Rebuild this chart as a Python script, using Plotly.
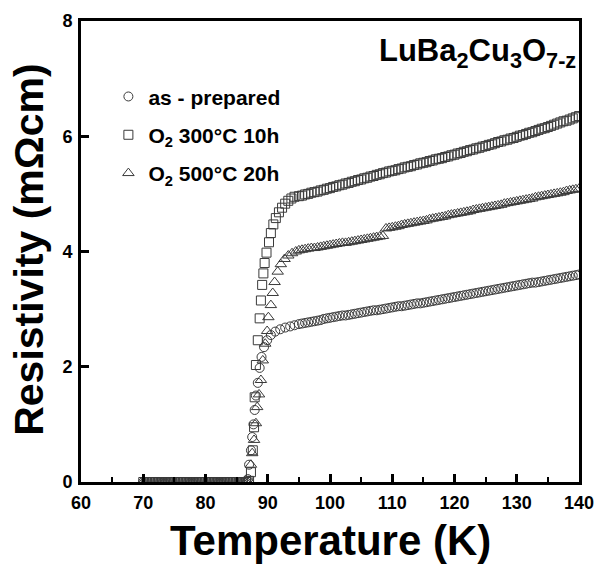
import plotly.graph_objects as go

# ---------------- data ----------------
# superconducting (zero-resistance) region, shared temperature grid
T_zero = [70 + 0.5 * i for i in range(34)]          # 70.0 ... 86.5 K
R_zero_asprep = [0.0] * 34
R_zero_o2_300 = [0.0] * 34
R_zero_o2_500 = [0.0] * 34

# transition region
T_tr_asprep = [86.8, 87.0, 87.3, 87.5, 87.7, 87.9, 88.1, 88.4, 88.7, 89.0, 89.4, 89.9,
               90.5, 91.2, 92.0, 92.8, 93.6, 94.3]
R_tr_asprep = [0.05, 0.30, 0.55, 0.78, 1.00, 1.25, 1.50, 1.72, 1.98, 2.17, 2.34, 2.46,
               2.55, 2.61, 2.65, 2.68, 2.70, 2.72]

T_tr_o2_300 = [87.0, 87.3, 87.6, 87.8, 87.9, 88.1, 88.4, 88.7, 88.9, 89.1, 89.3, 89.5,
               89.8, 90.2, 90.5, 90.9, 91.3, 91.8, 92.3, 92.8, 93.3, 93.8, 94.3]
R_tr_o2_300 = [0.02, 0.17, 0.55, 0.95, 1.47, 2.03, 2.46, 2.84, 3.15, 3.42, 3.62, 3.80,
               3.98, 4.16, 4.32, 4.47, 4.58, 4.68, 4.76, 4.83, 4.88, 4.92, 4.95]

T_tr_o2_500 = [87.0, 87.3, 87.5, 87.8, 88.1, 88.3, 88.6, 88.9, 89.2, 89.6, 89.9, 90.1,
               90.5, 90.8, 91.1, 91.6, 92.1, 92.7, 93.3, 93.9, 94.5]
R_tr_o2_500 = [0.02, 0.30, 0.50, 0.73, 1.02, 1.30, 1.52, 1.77, 2.11, 2.40, 2.62, 2.86,
               3.07, 3.28, 3.47, 3.65, 3.78, 3.87, 3.93, 3.97, 4.00]

# normal state, shared temperature grid 95.0 ... 140.0 K
T_norm = [95 + 0.5 * i for i in range(91)]
R_norm_asprep = [
    2.74, 2.75, 2.76, 2.77, 2.78, 2.79, 2.80, 2.81, 2.83, 2.84,
    2.85, 2.86, 2.87, 2.88, 2.89, 2.89, 2.90, 2.91, 2.92, 2.93,
    2.94, 2.95, 2.96, 2.97, 2.98, 2.98, 2.99, 3.00, 3.01, 3.02,
    3.03, 3.04, 3.05, 3.05, 3.06, 3.07, 3.08, 3.09, 3.10, 3.10,
    3.11, 3.12, 3.13, 3.14, 3.15, 3.16, 3.17, 3.18, 3.19, 3.20,
    3.21, 3.22, 3.23, 3.24, 3.25, 3.26, 3.27, 3.28, 3.29, 3.30,
    3.31, 3.32, 3.33, 3.34, 3.35, 3.36, 3.37, 3.38, 3.39, 3.40,
    3.41, 3.42, 3.43, 3.44, 3.45, 3.46, 3.46, 3.47, 3.48, 3.49,
    3.50, 3.51, 3.52, 3.53, 3.54, 3.55, 3.56, 3.57, 3.58, 3.59,
    3.60]
R_norm_o2_300 = [
    4.96, 4.97, 4.99, 5.00, 5.02, 5.03, 5.04, 5.06, 5.07, 5.09,
    5.10, 5.12, 5.13, 5.15, 5.16, 5.18, 5.19, 5.21, 5.22, 5.24,
    5.25, 5.27, 5.28, 5.30, 5.31, 5.33, 5.34, 5.36, 5.37, 5.39,
    5.40, 5.41, 5.43, 5.44, 5.46, 5.47, 5.48, 5.50, 5.51, 5.53,
    5.54, 5.55, 5.57, 5.58, 5.60, 5.61, 5.62, 5.64, 5.65, 5.67,
    5.68, 5.70, 5.71, 5.73, 5.74, 5.76, 5.77, 5.79, 5.80, 5.82,
    5.83, 5.85, 5.86, 5.88, 5.90, 5.91, 5.93, 5.94, 5.96, 5.97,
    5.99, 6.01, 6.02, 6.04, 6.06, 6.07, 6.09, 6.11, 6.13, 6.14,
    6.16, 6.18, 6.20, 6.22, 6.24, 6.26, 6.27, 6.29, 6.31, 6.33,
    6.35]
R_norm_o2_500 = [
    4.02, 4.03, 4.04, 4.05, 4.06, 4.06, 4.07, 4.08, 4.09, 4.10,
    4.11, 4.12, 4.13, 4.14, 4.15, 4.15, 4.16, 4.17, 4.18, 4.19,
    4.20, 4.21, 4.22, 4.23, 4.24, 4.25, 4.26, 4.27, 4.40, 4.41,
    4.42, 4.43, 4.44, 4.46, 4.47, 4.48, 4.49, 4.50, 4.51, 4.52,
    4.53, 4.54, 4.56, 4.57, 4.58, 4.59, 4.60, 4.61, 4.63, 4.64,
    4.65, 4.66, 4.67, 4.68, 4.69, 4.70, 4.72, 4.73, 4.74, 4.75,
    4.76, 4.77, 4.78, 4.79, 4.80, 4.81, 4.83, 4.84, 4.85, 4.86,
    4.87, 4.88, 4.89, 4.90, 4.91, 4.92, 4.94, 4.95, 4.96, 4.97,
    4.98, 4.99, 5.00, 5.01, 5.02, 5.03, 5.05, 5.06, 5.07, 5.08,
    5.09]

series_names = ["as - prepared", "O<sub>2</sub> 300°C 10h", "O<sub>2</sub> 500°C 20h"]
x_ticks = [60, 70, 80, 90, 100, 110, 120, 130, 140]
y_ticks = [0, 2, 4, 6, 8]
x_title = "Temperature (K)"
y_title = "Resistivity (mΩcm)"
compound = "LuBa<sub>2</sub>Cu<sub>3</sub>O<sub>7-z</sub>"

# ---------------- figure ----------------
FONT = "Liberation Sans, Arial, sans-serif"
MCOL = "#3a3a3a"

series = [
    (series_names[0], T_zero + T_tr_asprep + T_norm, R_zero_asprep + R_tr_asprep + R_norm_asprep, "circle-open", 9),
    (series_names[1], T_zero + T_tr_o2_300 + T_norm, R_zero_o2_300 + R_tr_o2_300 + R_norm_o2_300, "square-open", 9),
    (series_names[2], T_zero + T_tr_o2_500 + T_norm, R_zero_o2_500 + R_tr_o2_500 + R_norm_o2_500, "triangle-up-open", 10),
]

fig = go.Figure()
for i, (name, xs, ys, sym, sz) in enumerate(series):
    fig.add_trace(go.Scatter(
        x=xs, y=ys, mode="markers", name=name, legendgroup=f"g{i}",
        marker=dict(symbol=sym, size=sz, color=MCOL, line=dict(width=1, color=MCOL)),
    ))

fig.update_layout(
    width=595, height=570,
    margin=dict(l=81, r=16, t=21, b=88, autoexpand=False),
    paper_bgcolor="white", plot_bgcolor="white",
    font=dict(family=FONT, color="black", size=18, weight="bold"),
    showlegend=True,
    legend=dict(
        x=0.055, y=0.88, xanchor="left", yanchor="top",
        bgcolor="rgba(0,0,0,0)", borderwidth=0,
        font=dict(family=FONT, size=21, color="black", weight="bold"),
        itemsizing="trace", tracegroupgap=8,
    ),
    annotations=[
        dict(text=compound, xref="paper", yref="paper", x=0.997, y=0.978,
             xanchor="right", yanchor="top", showarrow=False,
             font=dict(family=FONT, size=31, color="black", weight="bold")),
        dict(text=x_title, xref="paper", yref="paper", x=0.5, y=-0.126,
             xanchor="center", yanchor="middle", showarrow=False,
             font=dict(family=FONT, size=42, color="black", weight="bold")),
        dict(text=y_title, xref="paper", yref="paper", x=-0.105, y=0.503,
             xanchor="center", yanchor="middle", showarrow=False, textangle=-90,
             font=dict(family=FONT, size=41, color="black", weight="bold")),
    ],
)

fig.update_xaxes(
    range=[60, 140], tickvals=x_ticks, ticktext=[str(v) for v in x_ticks],
    automargin=False,
    showgrid=False, zeroline=False,
    showline=True, linecolor="black", linewidth=3, mirror=True,
    ticks="inside", ticklen=8, tickwidth=3, tickcolor="black",
    minor=dict(ticks="inside", ticklen=5, tickwidth=2, tickcolor="black", dtick=5, tick0=60, showgrid=False),
    tickfont=dict(family=FONT, size=18, color="black", weight="bold"),
    ticklabelstandoff=2, ticklabeloverflow="allow",
)
fig.update_yaxes(
    range=[0, 8], tickvals=y_ticks, ticktext=[str(v) for v in y_ticks],
    automargin=False,
    showgrid=False, zeroline=False,
    showline=True, linecolor="black", linewidth=3, mirror=True,
    ticks="inside", ticklen=8, tickwidth=3, tickcolor="black",
    tickfont=dict(family=FONT, size=18, color="black", weight="bold"),
    ticklabelstandoff=2, ticklabeloverflow="allow",
)

fig.write_html("out.html", config={"displayModeBar": False},
               post_script="document.body.style.margin='0';")
